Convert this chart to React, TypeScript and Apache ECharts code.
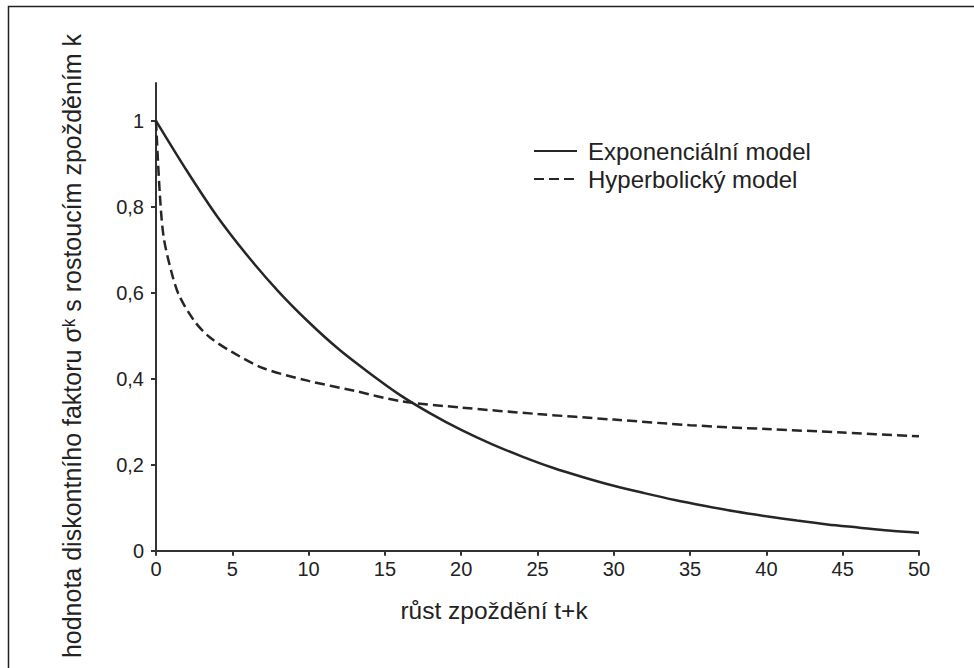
import React, { useEffect, useRef } from "react";
import * as echarts from "echarts";

const xTicks = [0, 5, 10, 15, 20, 25, 30, 35, 40, 45, 50];
const yTicks = [0, 0.2, 0.4, 0.6, 0.8, 1];

const expX = [0, 2, 4, 6, 8, 10, 12, 14, 16, 18, 20, 22, 24, 26, 28, 30, 32, 34, 36, 38, 40, 42, 44, 46, 48, 50];
const expY = [1.0, 0.885, 0.778, 0.686, 0.604, 0.532, 0.468, 0.413, 0.362, 0.319, 0.281, 0.248, 0.219, 0.193, 0.171, 0.151, 0.134, 0.118, 0.104, 0.091, 0.08, 0.07, 0.061, 0.054, 0.047, 0.042];

const hypX = [0, 0.25, 0.5, 1, 1.5, 2.5, 3.5, 5, 7, 10, 13, 16, 20, 25, 30, 35, 40, 45, 50];
const hypY = [1.0, 0.83, 0.73, 0.65, 0.595, 0.535, 0.497, 0.462, 0.425, 0.395, 0.372, 0.348, 0.333, 0.318, 0.305, 0.292, 0.283, 0.275, 0.266];

const seriesNames = ["Exponenciální model", "Hyperbolický model"];
const xName = "růst zpoždění t+k";
const yName = "hodnota diskontního faktoru σᵏ s rostoucím zpožděním k";

const FONT = "'Liberation Sans', Arial, Helvetica, sans-serif";
const INK = "#222222";

export default function App() {
  const ref = useRef<HTMLDivElement>(null);

  useEffect(() => {
    if (!ref.current) return;
    const chart = echarts.init(ref.current, undefined, { renderer: "svg" });
    const expData = expX.map((x, i) => [x, expY[i]]);
    const hypData = hypX.map((x, i) => [x, hypY[i]]);
    chart.setOption({
      animation: false,
      backgroundColor: "#ffffff",
      textStyle: { fontFamily: FONT },
      grid: { left: 156, right: 55, top: 83, bottom: 117.3, containLabel: false },
      legend: {
        orient: "vertical",
        left: 528,
        top: 134,
        itemWidth: 43,
        itemHeight: 14,
        itemGap: 4,
        itemStyle: { opacity: 0 },
        textStyle: { fontSize: 24, color: INK, fontFamily: FONT, padding: [0, 0, 0, 6] },
        data: seriesNames,
      },
      xAxis: {
        type: "value",
        min: 0,
        max: 50,
        interval: 5,
        splitLine: { show: false },
        axisLine: { show: true, lineStyle: { color: "#333333", width: 2 } },
        axisTick: { show: true, length: 5, lineStyle: { color: "#333333", width: 2 }, customValues: xTicks },
        axisLabel: { fontSize: 20, color: INK, margin: 8, fontFamily: FONT, customValues: xTicks },
      },
      yAxis: {
        type: "value",
        min: 0,
        max: 1.088,
        splitLine: { show: false },
        axisLine: { show: true, lineStyle: { color: "#333333", width: 2 } },
        axisTick: { show: true, length: 5, lineStyle: { color: "#333333", width: 2 }, customValues: yTicks },
        axisLabel: {
          fontSize: 20,
          color: INK,
          margin: 12,
          fontFamily: FONT,
          customValues: yTicks,
          formatter: (v: number) => String(Math.round(v * 10) / 10).replace(".", ","),
        },
      },
      graphic: [
        {
          type: "rect",
          silent: true,
          shape: { x: 8.5, y: 6.5, width: 2000, height: 2000 },
          style: { fill: "none", stroke: "#222222", lineWidth: 1.5 },
        },
        {
          type: "text",
          x: 72,
          y: 346,
          rotation: Math.PI / 2,
          style: {
            text: yName,
            fontSize: 25,
            fontFamily: FONT,
            fill: INK,
            textAlign: "center",
            textVerticalAlign: "middle",
          },
        },
        {
          type: "text",
          x: 494,
          y: 610,
          style: {
            text: xName,
            fontSize: 24.5,
            fontFamily: FONT,
            fill: INK,
            textAlign: "center",
            textVerticalAlign: "middle",
          },
        },
      ],
      series: [
        {
          name: seriesNames[0],
          type: "line",
          data: expData,
          smooth: 0.3,
          symbol: "none",
          lineStyle: { color: "#262626", width: 2.5, type: "solid" },
          itemStyle: { color: "#262626" },
        },
        {
          name: seriesNames[1],
          type: "line",
          data: hypData,
          smooth: 0.3,
          symbol: "none",
          lineStyle: { color: "#262626", width: 2.5, type: [10, 5] },
          itemStyle: { color: "#262626" },
        },
      ],
    });
    return () => chart.dispose();
  }, []);

  return (
    <div
      ref={ref}
      style={{ position: "fixed", left: 0, top: 0, width: 974, height: 668, background: "#fff" }}
    />
  );
}
